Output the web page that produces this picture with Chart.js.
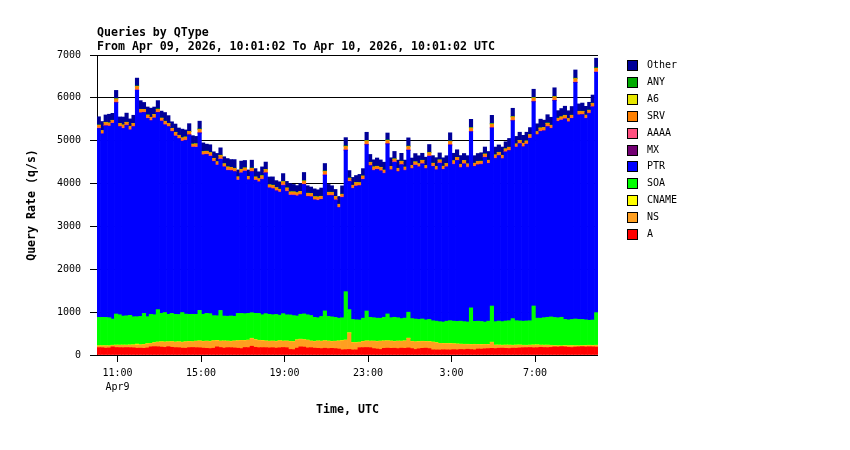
<!DOCTYPE html>
<html>
<head>
<meta charset="utf-8">
<script src="https://cdn.jsdelivr.net/npm/chart.js@4.4.1/dist/chart.umd.min.js"></script>
<style>
  html, body { margin: 0; padding: 0; background: #fff; }
</style>
</head>
<body>
<canvas id="qtypeChart" width="850" height="450"></canvas>
<script>
// Queries by QType - 24h, 10 minute bins starting 10:01:02 UTC

const titleLines = ['Queries by QType', 'From Apr 09, 2026, 10:01:02 To Apr 10, 2026, 10:01:02 UTC'];

// x axis in minutes after 10:00 on Apr 9
const startMin  = 1 + 2 / 60;
const binSize   = 10;
const binCount  = 144;
const binCenters = Array.from({ length: binCount }, (_, i) => startMin + binSize * i + binSize / 2);

const tickMinutes = [60, 300, 540, 780, 1020, 1260];
const tickLabels  = [['11:00', 'Apr9'], '15:00', '19:00', '23:00', '3:00', '7:00'];
const yTicks      = [0, 1000, 2000, 3000, 4000, 5000, 6000, 7000];

// series, bottom of the stack first
const qA = [
172,170,160,165,190,175,172,170,174,171,168,158,
160,155,165,190,195,192,185,178,194,180,172,170,
160,158,172,175,170,168,160,155,150,158,190,175,
160,172,170,165,158,150,175,172,205,180,170,172,
171,165,170,160,168,175,170,130,125,160,190,185,
165,170,160,155,150,158,150,155,150,140,120,125,
130,118,120,170,172,175,170,150,140,130,155,160,
155,158,150,160,155,165,150,130,145,155,160,150,
120,118,117,122,120,118,125,120,130,125,135,128,
120,140,138,145,150,155,150,158,160,155,152,160,
158,165,170,172,175,168,170,180,175,172,178,190,
185,195,190,180,175,185,190,195,188,192,190,185];

const qNS = [
38,40,52,42,32,50,53,57,51,56,64,77,
72,87,92,77,87,105,118,119,109,127,125,133,
132,145,140,128,149,154,152,164,162,169,142,144,
162,147,142,157,169,187,157,170,177,172,167,160,
151,152,149,152,159,144,152,182,182,187,172,167,
177,149,152,167,167,169,169,157,167,182,212,217,
382,169,162,122,140,147,149,167,172,189,167,167,
164,154,169,157,167,222,162,172,162,157,150,157,
177,164,150,142,142,142,132,132,117,119,107,112,
122,101,99,97,90,137,77,67,62,72,73,62,
67,62,52,48,50,59,60,45,47,52,42,22,
25,12,22,30,39,25,17,17,29,28,27,37];

const qCNAME = [
7,8,6,9,7,8,7,6,8,9,7,20,
8,7,9,6,8,7,8,9,7,6,8,7,
9,8,7,8,6,9,8,7,8,7,9,8,
7,8,9,7,8,6,8,7,9,8,7,8,
8,7,8,9,7,8,6,8,7,9,8,7,
7,9,8,7,8,7,9,8,6,8,7,9,
8,7,9,8,7,8,7,9,8,7,8,6,
9,8,7,8,9,7,8,7,8,9,7,8,
7,8,6,8,7,9,8,7,8,7,9,8,
8,7,9,7,8,8,7,9,8,6,8,7,
9,8,7,8,7,9,8,7,9,8,7,8,
7,8,9,8,7,8,9,7,8,8,9,7];

const qSOA = [
661,661,659,655,610,724,707,675,682,690,654,639,
660,722,629,675,650,755,661,685,639,657,645,634,
690,644,630,639,623,710,630,645,645,585,575,713,
580,578,590,575,635,627,625,622,595,612,627,600,
635,625,613,625,595,638,610,615,605,555,580,600,
590,593,560,540,575,695,573,570,555,530,530,1127,
540,535,530,517,540,697,553,545,540,533,550,625,
543,560,543,525,530,605,530,530,515,520,502,515,
495,500,505,498,520,532,525,525,535,528,520,852,
535,541,535,520,542,843,545,557,550,560,567,620,
567,560,560,567,567,908,622,627,640,648,662,655,
652,665,610,602,608,622,615,610,595,582,590,760];

const qPTR = [
4406,4276,4466,4465,4565,4928,4385,4375,4440,4320,4431,5281,
4745,4683,4621,4515,4585,4595,4483,4375,4375,4243,4155,4100,
3995,4050,4185,3895,3895,4135,3715,3703,3670,3595,3510,3525,
3475,3400,3385,3370,3105,3273,3320,3113,3290,3103,3063,3155,
3280,2945,2935,2880,2865,2990,2875,2790,2805,2795,2785,3015,
2755,2765,2735,2735,2725,3165,2815,2825,2735,2575,2805,3298,
2985,3055,3115,3128,3235,3878,3535,3435,3465,3435,3355,3965,
3445,3615,3405,3585,3445,3775,3495,3585,3555,3615,3525,3805,
3595,3525,3695,3555,3595,4095,3655,3750,3575,3675,3605,4105,
3610,3645,3665,3835,3675,4152,3805,3855,3795,3940,3965,4615,
4045,4130,4065,4120,4255,4762,4275,4355,4355,4445,4395,5060,
4575,4595,4675,4615,4685,5515,4765,4775,4695,4825,4970,5605];

const qMX = [
6,5,7,6,4,8,6,5,7,6,5,7,
6,7,5,6,8,6,5,7,6,4,6,7,
5,6,7,6,5,8,6,7,5,6,7,6,
6,5,7,8,6,5,6,7,6,5,7,6,
7,6,5,6,7,6,8,5,6,7,6,5,
6,7,6,5,6,8,6,7,5,6,6,7,
5,6,7,6,5,7,6,6,8,5,6,7,
6,5,6,7,6,8,5,6,7,6,5,6,
7,6,5,6,7,6,6,5,7,6,8,6,
5,7,6,6,5,7,6,8,5,6,7,6,
6,5,7,6,6,8,5,6,7,5,6,7,
6,7,5,6,7,6,8,6,5,7,6,6];

const qAAAA = [
12,10,15,8,14,12,9,16,11,13,10,14,
15,9,12,18,10,13,11,14,8,12,16,10,
11,14,9,12,15,10,13,11,17,9,12,14,
10,12,15,9,13,11,14,10,12,16,9,13,
12,10,14,11,9,15,12,13,10,14,11,12,
13,9,12,15,10,14,11,12,16,10,13,11,
14,10,12,9,15,11,13,12,10,14,12,9,
11,15,10,13,12,14,9,12,11,15,10,13,
12,11,14,10,13,12,15,9,12,11,14,10,
13,12,10,15,11,13,12,10,14,12,11,13,
10,14,12,11,15,12,10,13,11,14,12,10,
12,13,11,14,10,12,15,11,13,10,12,14];

const qSRV = [
58,62,55,60,52,66,57,60,54,63,58,70,
60,55,62,57,64,59,53,61,58,56,63,55,
60,57,62,54,59,68,56,61,58,55,60,66,
57,62,55,60,58,63,56,59,61,54,58,62,
59,56,61,58,55,64,60,57,62,55,59,66,
58,61,55,60,57,68,59,56,62,58,55,72,
60,57,62,55,59,70,58,61,56,60,57,66,
62,55,59,61,57,68,58,60,55,62,57,64,
59,62,56,60,58,68,61,55,59,62,57,72,
58,61,56,60,59,72,62,57,60,55,61,70,
59,56,62,58,61,70,57,60,59,62,56,70,
60,58,62,56,59,72,61,58,60,57,62,74];

const qA6 = [
1,0,1,1,0,1,1,0,1,1,0,1,
0,1,1,0,1,1,0,1,0,1,1,0,
1,1,0,1,1,0,1,0,1,1,0,1,
1,0,1,0,1,1,0,1,1,0,1,1,
0,1,1,0,1,0,1,1,0,1,1,0,
1,1,0,1,1,0,1,0,1,1,0,1,
1,0,1,1,0,1,1,0,1,0,1,1,
0,1,1,0,1,1,0,1,1,0,1,0,
1,1,0,1,0,1,1,0,1,1,0,1,
1,0,1,1,0,1,0,1,1,0,1,1,
0,1,1,0,1,1,0,1,0,1,1,0,
1,0,1,1,0,1,1,0,1,1,0,1];

const qANY = [
8,6,10,7,5,12,8,9,6,10,7,14,
9,7,11,6,8,13,7,9,10,6,8,11,
7,9,6,10,8,14,9,7,10,6,9,12,
8,10,7,9,6,11,8,7,10,9,6,12,
9,7,10,8,6,13,7,9,8,10,7,12,
8,6,9,10,7,14,8,9,6,10,8,15,
9,7,10,8,6,13,8,10,7,9,8,14,
7,9,8,10,6,12,9,7,10,8,9,13,
8,10,7,9,8,12,9,6,10,8,7,15,
9,8,10,7,9,14,8,10,7,9,8,13,
10,7,9,8,10,14,8,9,7,10,8,13,
9,8,10,7,9,15,8,10,9,7,10,16];

const qOther = [
190,210,170,200,160,190,150,180,210,170,190,180,
200,160,180,210,170,190,160,200,180,150,190,170,
200,160,180,190,170,180,200,160,180,150,190,170,
160,190,180,200,160,190,170,150,180,190,160,200,
170,180,190,160,170,180,150,190,170,160,180,190,
170,150,180,160,190,170,180,150,160,180,190,190,
170,180,160,190,170,190,180,160,190,170,180,160,
200,170,190,180,160,190,170,190,180,160,190,180,
170,200,160,190,180,190,170,180,200,160,190,190,
170,180,190,160,200,190,180,170,190,160,200,190,
170,190,180,200,160,190,180,200,170,190,180,200,
170,190,210,180,200,190,170,190,200,180,190,220];

const seriesNames  = ['A', 'NS', 'CNAME', 'SOA', 'PTR', 'MX', 'AAAA', 'SRV', 'A6', 'ANY', 'Other'];
const seriesData   = [qA, qNS, qCNAME, qSOA, qPTR, qMX, qAAAA, qSRV, qA6, qANY, qOther];
const seriesColors = ['#FF0000', '#FF9F20', '#FFFF00', '#00FF00', '#0000FF', '#730073',
                      '#FF5080', '#FF8000', '#E6E600', '#00AA00', '#000099'];

const MONO = '"DejaVu Sans Mono", monospace';

// title + legend drawn by hand
const decorPlugin = {
    id: 'decor',
    afterDraw(chart) {
        const ctx = chart.ctx;
        ctx.save();
        ctx.fillStyle = '#000';
        ctx.textBaseline = 'middle';
        ctx.textAlign = 'left';
        ctx.font = 'bold 11.6px ' + MONO;
        ctx.fillText(titleLines[0], 97, 32.5);
        ctx.fillText(titleLines[1], 97, 47);

        // legend, top entry is the top of the stack
        ctx.font = '10px ' + MONO;
        ctx.lineWidth = 1;
        ctx.strokeStyle = '#000';
        for (let k = 0; k < seriesNames.length; k++) {
            const i = seriesNames.length - 1 - k;
            const yb = Math.round(60 + k * 16.9);
            ctx.fillStyle = seriesColors[i];
            ctx.fillRect(627, yb, 11, 11);
            ctx.strokeRect(627.5, yb + 0.5, 10, 10);
            ctx.fillStyle = '#000';
            ctx.fillText(seriesNames[i], 647, yb + 5.5);
        }
        ctx.restore();
    }
};

new Chart(document.getElementById('qtypeChart'), {
    type: 'bar',
    data: {
        labels: binCenters,
        datasets: seriesNames.map((name, i) => ({
            label: name,
            data: seriesData[i],
            backgroundColor: seriesColors[i],
            borderWidth: 0,
            barPercentage: 1,
            categoryPercentage: 1,
        }))
    },
    options: {
        responsive: false,
        animation: false,
        devicePixelRatio: 1,
        layout: { padding: { left: 0, top: 55, right: 252, bottom: 0 } },
        plugins: {
            legend: { display: false },
            title: { display: false },
            tooltip: { enabled: false },
        },
        scales: {
            x: {
                type: 'linear',
                stacked: true,
                offset: false,
                min: startMin,
                max: startMin + binSize * binCount,
                grid: { offset: false, drawOnChartArea: false, drawTicks: true, tickLength: 7, color: '#000' },
                border: { display: false },
                afterBuildTicks: (axis) => { axis.ticks = tickMinutes.map(v => ({ value: v })); },
                afterFit: (axis) => { axis.height = 95; },
                ticks: {
                    autoSkip: false,
                    maxRotation: 0,
                    padding: 4,
                    color: '#000',
                    font: { family: MONO, size: 10, lineHeight: 1.4 },
                    callback: (value, index) => tickLabels[index],
                },
                title: {
                    display: true,
                    text: 'Time, UTC',
                    color: '#000',
                    font: { family: MONO, size: 11.6, weight: 'bold', lineHeight: 1.2 },
                    padding: { top: 0, bottom: 33.5 },
                },
            },
            y: {
                stacked: true,
                min: 0,
                max: 7000,
                grid: { color: '#000', lineWidth: 1, tickLength: 7 },
                border: { display: true, color: '#000' },
                afterBuildTicks: (axis) => { axis.ticks = yTicks.map(v => ({ value: v })); },
                afterFit: (axis) => { axis.width = 97; },
                ticks: {
                    padding: 9,
                    color: '#000',
                    font: { family: MONO, size: 10 },
                    callback: (value) => String(value),
                },
                title: {
                    display: true,
                    text: 'Query Rate (q/s)',
                    color: '#000',
                    font: { family: MONO, size: 11.6, weight: 'bold', lineHeight: 1.2 },
                    padding: { top: 25, bottom: 0 },
                },
            },
        },
    },
    plugins: [decorPlugin],
});
</script>
</body>
</html>
